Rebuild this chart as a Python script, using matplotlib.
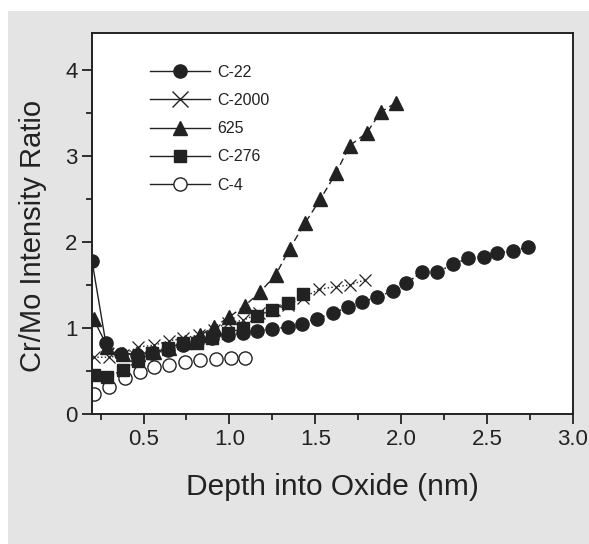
import matplotlib
matplotlib.use("Agg")
import matplotlib.pyplot as plt
from matplotlib.lines import Line2D
from matplotlib.patches import Rectangle

plt.rcParams['font.family'] = ['Liberation Sans', 'DejaVu Sans']

# C-22 (filled circles)
c22_x = [0.20, 0.28, 0.37, 0.46, 0.55, 0.64, 0.73, 0.81, 0.90, 0.99,
         1.08, 1.16, 1.25, 1.34, 1.42, 1.51, 1.60, 1.69, 1.77, 1.86,
         1.95, 2.03, 2.12, 2.21, 2.30, 2.39, 2.48, 2.56, 2.65, 2.74]
c22_y = [1.78, 0.83, 0.70, 0.69, 0.71, 0.74, 0.80, 0.84, 0.88, 0.92,
         0.94, 0.97, 0.99, 1.01, 1.05, 1.11, 1.17, 1.24, 1.30, 1.36,
         1.43, 1.52, 1.65, 1.65, 1.74, 1.81, 1.83, 1.87, 1.90, 1.94]

# C-2000 (crosses)
c2000_x = [0.21, 0.30, 0.38, 0.47, 0.56, 0.65, 0.73, 0.82, 0.91, 0.99,
           1.08, 1.17, 1.26, 1.34, 1.43, 1.52, 1.62, 1.70, 1.79]
c2000_y = [0.66, 0.66, 0.69, 0.78, 0.80, 0.85, 0.88, 0.92, 0.98, 1.06,
           1.09, 1.17, 1.21, 1.27, 1.35, 1.45, 1.48, 1.50, 1.56]

# 625 (filled triangles)
a625_x = [0.21, 0.29, 0.38, 0.47, 0.56, 0.65, 0.74, 0.83, 0.91, 1.00,
          1.09, 1.18, 1.27, 1.35, 1.44, 1.53, 1.62, 1.70, 1.80, 1.88, 1.97]
a625_y = [1.10, 0.78, 0.70, 0.70, 0.72, 0.77, 0.84, 0.92, 1.01, 1.13,
          1.26, 1.42, 1.62, 1.92, 2.22, 2.50, 2.80, 3.12, 3.27, 3.51, 3.62]

# C-276 (filled squares)
c276_x = [0.21, 0.29, 0.38, 0.47, 0.55, 0.64, 0.73, 0.81, 0.90, 0.99,
          1.08, 1.16, 1.25, 1.34, 1.43]
c276_y = [0.45, 0.43, 0.51, 0.62, 0.71, 0.77, 0.82, 0.82, 0.88, 0.94,
          1.00, 1.14, 1.21, 1.29, 1.39]

# C-4 (open circles)
c4_x = [0.21, 0.30, 0.39, 0.48, 0.56, 0.65, 0.74, 0.83, 0.92, 1.01, 1.09]
c4_y = [0.23, 0.31, 0.42, 0.49, 0.55, 0.57, 0.60, 0.63, 0.64, 0.65, 0.65]

ink = '#222222'
fig = plt.figure(figsize=(5.89, 5.44), dpi=100, facecolor='white')
fig.patches.append(Rectangle((8 / 589, 0), 1, 1 - 11 / 544, transform=fig.transFigure,
                             facecolor='#e4e4e4', edgecolor='none', zorder=-10))
ax = fig.add_axes([92 / 589, 1 - 414 / 544, 481 / 589, 381 / 544])
ax.set_facecolor('white')

ms = 9.5
ax.plot(c4_x, c4_y, linestyle='none', marker='o', ms=ms, mfc='white', mec=ink, mew=1.0)
ax.plot(c276_x, c276_y, linestyle='-.', lw=0.9, color=ink, marker='s', ms=8.5, mfc=ink, mec=ink)
# the first step of 625 and C-22 is drawn solid
ax.plot(a625_x[:2], a625_y[:2], '-', lw=1.0, color=ink)
ax.plot(a625_x[1:], a625_y[1:], linestyle=(0, (5, 3)), lw=1.0, color=ink)
ax.plot(a625_x, a625_y, linestyle='none', marker='^', ms=ms, mfc=ink, mec=ink)
ax.plot(c2000_x, c2000_y, linestyle=':', lw=1.0, color=ink, marker='x', ms=9, mew=0.9)
ax.plot(c22_x[:2], c22_y[:2], '-', lw=1.0, color=ink)
ax.plot(c22_x[1:], c22_y[1:], linestyle=':', lw=1.2, color=ink)
ax.plot(c22_x, c22_y, linestyle='none', marker='o', ms=ms, mfc=ink, mec=ink)

ax.set_xlim(0.2, 3.0)
ax.set_ylim(0, 4.43)
ax.set_xticks([0.5, 1.0, 1.5, 2.0, 2.5, 3.0])
ax.set_xticks([0.25, 0.75, 1.25, 1.75, 2.25, 2.75], minor=True)
ax.set_yticks([0, 1, 2, 3, 4])
ax.set_yticks([0.5, 1.5, 2.5, 3.5], minor=True)
ax.tick_params(which='major', direction='out', length=7, width=1.3, labelsize=16, colors=ink)
ax.tick_params(which='minor', direction='out', length=4, width=1.1)
for s in ax.spines.values():
    s.set_linewidth(1.4)
    s.set_color(ink)

ax.set_xlabel('Depth into Oxide (nm)', fontsize=21.5, color=ink, labelpad=17)
ax.set_ylabel('Cr/Mo Intensity Ratio', fontsize=21, color=ink)
ax.yaxis.set_label_coords(-0.094, 0.467)

handles = [
    Line2D([], [], color=ink, lw=1.0, marker='o', ms=ms, mfc=ink, mec=ink),
    Line2D([], [], color=ink, lw=1.0, marker='x', ms=11, mew=1.0),
    Line2D([], [], color=ink, lw=1.0, marker='^', ms=ms, mfc=ink, mec=ink),
    Line2D([], [], color=ink, lw=1.0, marker='s', ms=8.5, mfc=ink, mec=ink),
    Line2D([], [], color=ink, lw=1.0, marker='o', ms=ms, mfc='white', mec=ink),
]
labels = ['C-22', 'C-2000', '625', 'C-276', 'C-4']
leg = ax.legend(handles, labels, loc='upper left', bbox_to_anchor=(0.12, 0.917),
                frameon=False, fontsize=11.5, handlelength=3.8, handletextpad=0.45,
                labelspacing=0.83, borderpad=0, borderaxespad=0)
for t in leg.get_texts():
    t.set_color(ink)

fig.savefig('out.png', dpi=100, facecolor=fig.get_facecolor())
